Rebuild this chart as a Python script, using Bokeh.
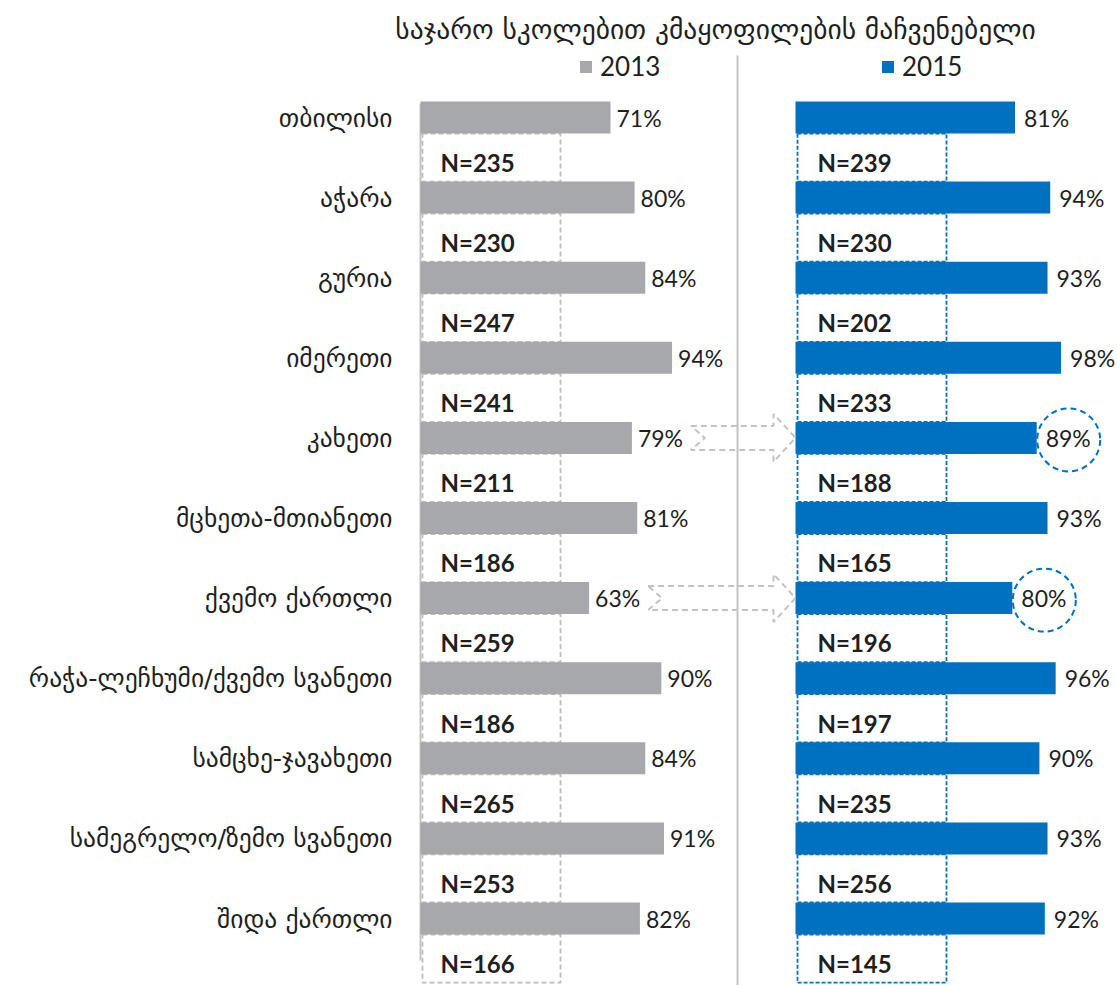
from bokeh.plotting import figure
from bokeh.models import Range1d, Legend, LegendItem, ColumnDataSource
from bokeh.core.properties import value
from bokeh.embed import file_html
from bokeh.resources import INLINE

# ---------------- data ----------------
title_text = "საჯარო სკოლებით კმაყოფილების მაჩვენებელი"
regions = ["თბილისი", "აჭარა", "გურია", "იმერეთი", "კახეთი", "მცხეთა-მთიანეთი",
           "ქვემო ქართლი", "რაჭა-ლეჩხუმი/ქვემო სვანეთი", "სამცხე-ჯავახეთი",
           "სამეგრელო/ზემო სვანეთი", "შიდა ქართლი"]
pct_2013 = [71, 80, 84, 94, 79, 81, 63, 90, 84, 91, 82]
pct_2015 = [81, 94, 93, 98, 89, 93, 80, 96, 90, 93, 92]
n_2013 = [235, 230, 247, 241, 211, 186, 259, 186, 265, 253, 166]
n_2015 = [239, 230, 202, 233, 188, 165, 196, 197, 235, 256, 145]
series_labels = ["2013", "2015"]
highlight = ["კახეთი", "ქვემო ქართლი"]

# ---------------- layout constants ----------------
W, H, M = 1117, 985, 0
L0, K1 = 420, 2.676     # left panel zero (picture px) and px per %
R0, K2 = 795, 2.71      # right panel zero and px per %
ROW0, DY = 117, 80.1    # first row centre (picture px) and row pitch

GRAY = "#a7a8ab"
BLUE = "#0070c0"
LINE_GRAY = "#c3c3c3"
TXT = "#1f1f1f"
NUMFONT = value("Lato")
GEOFONT = value("DejaVu Sans")

def lx(px):
    return (px - L0) / K1

def ry(py):
    return (py - ROW0) / DY

p = figure(width=W, height=H,
           x_range=Range1d(lx(M), lx(M + W)),
           y_range=Range1d(ry(M + H), ry(M)),
           output_backend="svg", toolbar_location=None,
           x_axis_location=None, y_axis_location=None,
           min_border=0, outline_line_color=None)
p.extra_x_ranges = {"right": Range1d((M - R0) / K2, (M + W - R0) / K2)}
p.grid.visible = False

ys = list(range(len(regions)))
src = ColumnDataSource(dict(
    region=regions, y=ys,
    v13=pct_2013, v15=pct_2015,
    l13=[f"{v}%" for v in pct_2013], l15=[f"{v}%" for v in pct_2015],
    n13=[f"N={n}" for n in n_2013], n15=[f"N={n}" for n in n_2015],
    ny=[y + 0.5 for y in ys], nty=[y + 0.56 for y in ys],
))

# separator and left axis line
p.segment(x0=[lx(737)], y0=[ry(55)], x1=[lx(737)], y1=[ry(M + H)],
          line_color=LINE_GRAY, line_width=2)
p.segment(x0=[0], y0=[ry(103)], x1=[0], y1=[ry(960)],
          line_color=LINE_GRAY, line_width=2)

# N boxes (dashed)
p.hbar(y="ny", height=0.6, left=lx(422), right=lx(560), source=src,
       fill_color=None, line_color="#bdbdbd", line_width=1.8, line_dash="5 3")
p.hbar(y="ny", height=0.6, left=(797 - R0) / K2, right=(946 - R0) / K2, source=src,
       fill_color=None, line_color=BLUE, line_width=1.8, line_dash="4 2",
       x_range_name="right")

# bars
r13 = p.hbar(y="y", left=0, right="v13", height=0.4, source=src,
             fill_color=GRAY, line_color=None)
r15 = p.hbar(y="y", left=0, right="v15", height=0.4, source=src,
             fill_color=BLUE, line_color=None, x_range_name="right")

# value labels
p.text(x="v13", y="y", text="l13", source=src, x_offset=6,
       text_align="left", text_baseline="middle", text_font=NUMFONT,
       text_font_size="23px", text_color=TXT)
p.text(x="v15", y="y", text="l15", source=src, x_offset=9,
       text_align="left", text_baseline="middle", text_font=NUMFONT,
       text_font_size="23px", text_color=TXT, x_range_name="right")

# N labels
p.text(x=0, y="nty", text="n13", source=src, x_offset=20,
       text_align="left", text_baseline="middle", text_font=NUMFONT,
       text_font_style="bold", text_font_size="24px", text_color=TXT)
p.text(x=0, y="nty", text="n15", source=src, x_offset=22,
       text_align="left", text_baseline="middle", text_font=NUMFONT,
       text_font_style="bold", text_font_size="24px", text_color=TXT,
       x_range_name="right")

# category labels
p.text(x=0, y="y", text="region", source=src, x_offset=-28,
       text_align="right", text_baseline="middle", text_font=GEOFONT,
       text_font_size="25.5px", text_color=TXT)

# title
p.text(x=[lx(715)], y=[ry(28)], text=[title_text], text_align="center",
       text_baseline="middle", text_font=GEOFONT, text_font_size="27.5px",
       text_color=TXT)

# highlight arrows and circles
axs, ays, cx, cy = [], [], [], []
for name in highlight:
    i = regions.index(name)
    tail = pct_2013[i] + 59 / K1
    tip = lx(R0)
    base = tip - 22 / K1
    notch = tail + 14 / K1
    s, h = 12 / DY, 24 / DY
    axs.append([tail, base, base, tip, base, base, tail, notch])
    ays.append([i - s, i - s, i - h, i, i + h, i + s, i + s, i])
    cx.append(pct_2015[i] + 32 / K2)
    cy.append(i + 2 / DY)
p.patches(xs=axs, ys=ays, fill_alpha=0, line_color=LINE_GRAY,
          line_width=2, line_dash="6 4")
p.scatter(x=cx, y=cy, size=63, marker="circle", fill_alpha=0,
          line_color=BLUE, line_width=2, line_dash="6 4", x_range_name="right")

# legends
for lab, rend, xpx in [(series_labels[0], r13, 578), (series_labels[1], r15, 880)]:
    leg = Legend(items=[LegendItem(label=value(lab), renderers=[rend])],
                 location=(xpx - M, H - (82 - M)), orientation="horizontal",
                 glyph_width=15, glyph_height=15, label_standoff=7,
                 padding=0, margin=0, spacing=0,
                 border_line_color=None, background_fill_alpha=0,
                 label_text_font="Lato", label_text_font_size="26px",
                 label_text_color=TXT)
    p.add_layout(leg)

open("out.html", "w").write(file_html(p, INLINE))
